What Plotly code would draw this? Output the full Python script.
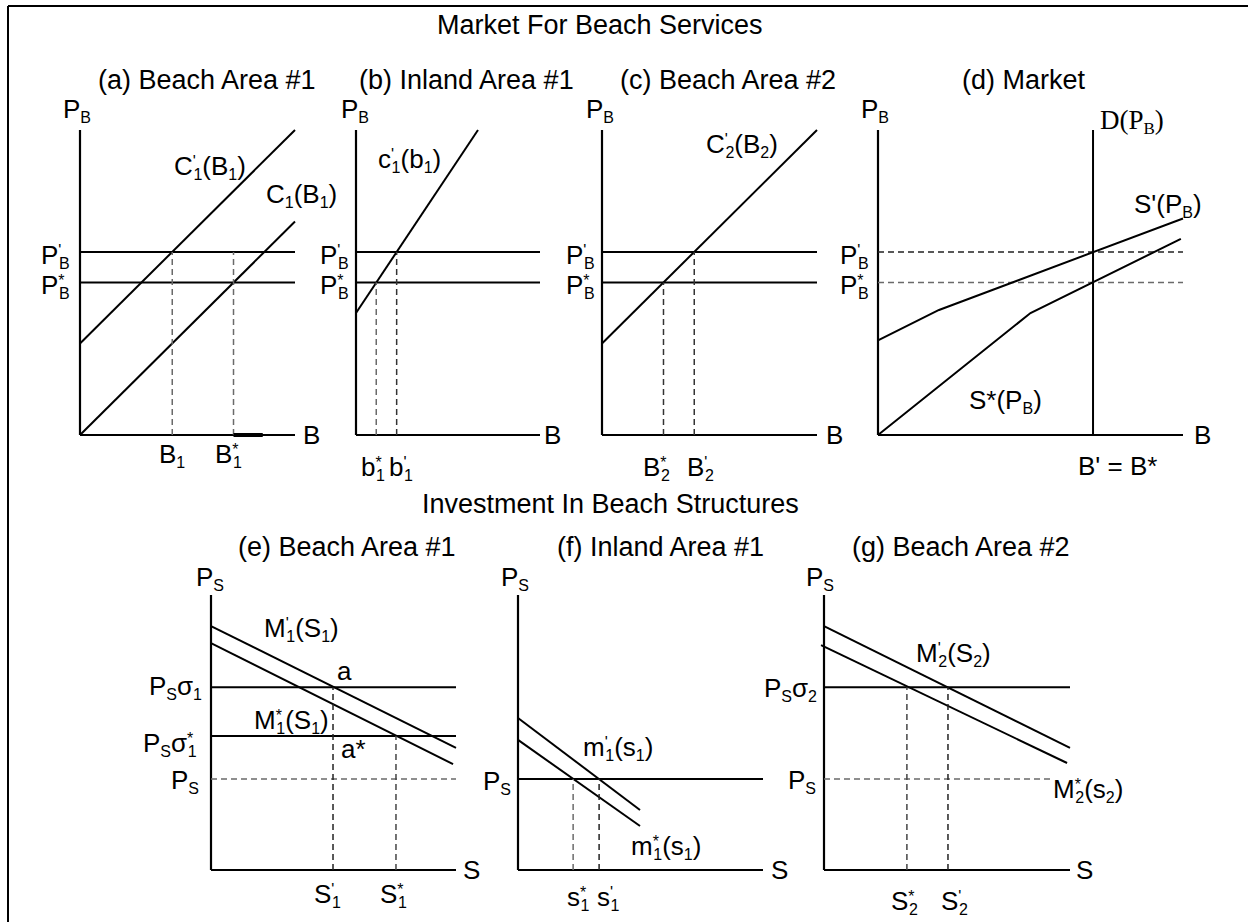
import plotly.graph_objects as go

# ---------------- data (diagram units: every axis runs 0..10) ----------------
AXIS_LEN = 10
# (a) Beach Area #1
a_price_levels = [6.0, 5.0]                 # P'_B , P*_B
a_C1p_x = [0, 10];  a_C1p_y = [3.0, 10.0]   # C'_1(B_1)
a_C1_x = [0, 10];   a_C1_y = [0.0, 7.0]     # C_1(B_1)
a_B1 = 4.29; a_B1star = 7.14
a_axis_mark_x = [7.14, 8.5]
# (b) Inland Area #1
b_price_levels = [6.0, 5.0]
b_c1p_x = [0, 6.63]; b_c1p_y = [4.0, 10.0]  # c'_1(b_1)
b_b1star = 1.1; b_b1p = 2.21
# (c) Beach Area #2
c_price_levels = [6.0, 5.0]
c_C2p_x = [0, 10]; c_C2p_y = [3.0, 10.0]    # C'_2(B_2)
c_B2star = 2.86; c_B2p = 4.29
# (d) Market
d_price_levels = [6.0, 5.0]
d_D_x = 7.05
d_Sp_x = [0, 2.0, 10];   d_Sp_y = [3.1, 4.1, 7.1]     # S'(P_B)
d_Ss_x = [0, 5.0, 9.93]; d_Ss_y = [0.0, 4.0, 6.43]    # S*(P_B)
# (e) Beach Area #1 (structures)
e_levels = [6.65, 4.87, 3.31]               # P_S sigma_1, P_S sigma*_1, P_S
e_M1p_x = [0, 10];   e_M1p_y = [8.87, 4.44]
e_M1s_x = [0, 9.88]; e_M1s_y = [8.25, 3.85]
e_S1p = 4.98; e_S1s = 7.55
# (f) Inland Area #1 (structures)
f_PS = 3.31
f_m1p_x = [0, 4.98]; f_m1p_y = [5.53, 2.18]
f_m1s_x = [0, 4.98]; f_m1s_y = [4.73, 1.60]
f_s1s = 2.25; f_s1p = 3.31
# (g) Beach Area #2 (structures)
g_levels = [6.65, 3.31]                     # P_S sigma_2, P_S
g_PS_end = 9.3
g_M2p_x = [0, 10];     g_M2p_y = [8.87, 4.44]
g_M2s_x = [-0.12, 9.88]; g_M2s_y = [8.18, 3.89]
g_S2s = 3.37; g_S2p = 5.04

# ---------------- layout geometry (pixels) ----------------
W, H = 1248, 922
SANS = "Liberation Sans, Arial, sans-serif"
SERIF = "Liberation Serif, Times New Roman, serif"
# origin x, origin y, x-axis end, y-axis top
panels = [
    (80, 435, 295, 130),
    (356, 435, 540, 130),
    (602, 435, 817, 130),
    (878, 435, 1183, 130),
    (211, 870, 456, 595),
    (518, 870, 763, 595),
    (824, 870, 1070, 595),
]
XR = (-1.0, 11.0)
YR = (-1.5, 12.5)

fig = go.Figure()
layout = dict(width=W, height=H, margin=dict(l=0, r=0, t=0, b=0),
              paper_bgcolor="white", plot_bgcolor="rgba(0,0,0,0)",
              showlegend=False, autosize=False)
for i, (ox, oy, xe, yt) in enumerate(panels):
    sx = (xe - ox) / 10.0
    sy = (oy - yt) / 10.0
    k = "" if i == 0 else str(i + 1)
    layout["xaxis" + k] = dict(domain=[(ox + XR[0] * sx) / W, (ox + XR[1] * sx) / W],
                               range=list(XR), visible=False, fixedrange=True, anchor="y" + k)
    layout["yaxis" + k] = dict(domain=[1 - (oy - YR[0] * sy) / H, 1 - (oy - YR[1] * sy) / H],
                               range=list(YR), visible=False, fixedrange=True, anchor="x" + k)
fig.update_layout(**layout)


def refs(p):
    return ("x", "y") if p == 0 else ("x" + str(p + 1), "y" + str(p + 1))


def line(p, xs, ys, color="black", width=2, dash=None):
    xr, yr = refs(p)
    fig.add_trace(go.Scatter(x=xs, y=ys, mode="lines", xaxis=xr, yaxis=yr, hoverinfo="skip",
                             line=dict(color=color, width=width, dash=dash)))


def hline(p, y, x0=0, x1=AXIS_LEN, **kw):
    line(p, [x0, x1], [y, y], **kw)


def vline(p, x, y0, y1, **kw):
    line(p, [x, x], [y0, y1], **kw)


DASH = "6px,4px"
GREY = "#6a6a6a"

# axes
for p in range(7):
    line(p, [0, AXIS_LEN], [0, 0], width=2.2)
    line(p, [0, 0], [0, AXIS_LEN], width=2.2)

# (a)
for lv in a_price_levels:
    hline(0, lv)
line(0, a_C1p_x, a_C1p_y)
line(0, a_C1_x, a_C1_y)
vline(0, a_B1, 0, a_price_levels[0], color=GREY, width=1.5, dash=DASH)
vline(0, a_B1star, 0, a_price_levels[0], color=GREY, width=1.5, dash=DASH)
line(0, a_axis_mark_x, [0, 0], width=4)
# (b)
for lv in b_price_levels:
    hline(1, lv)
line(1, b_c1p_x, b_c1p_y)
vline(1, b_b1star, 0, b_price_levels[1], color=GREY, width=1.5, dash=DASH)
vline(1, b_b1p, 0, b_price_levels[0], color="#333", width=1.5, dash=DASH)
# (c)
for lv in c_price_levels:
    hline(2, lv)
line(2, c_C2p_x, c_C2p_y)
vline(2, c_B2star, 0, c_price_levels[1], color="#333", width=1.5, dash=DASH)
vline(2, c_B2p, 0, c_price_levels[0], color="#333", width=1.5, dash=DASH)
# (d)
hline(3, d_price_levels[0], color="#222", width=1.5, dash=DASH)
hline(3, d_price_levels[1], color=GREY, width=1.5, dash=DASH)
vline(3, d_D_x, 0, AXIS_LEN)
line(3, d_Sp_x, d_Sp_y)
line(3, d_Ss_x, d_Ss_y)
# (e)
hline(4, e_levels[0])
hline(4, e_levels[1])
hline(4, e_levels[2], color=GREY, width=1.5, dash=DASH)
line(4, e_M1p_x, e_M1p_y)
line(4, e_M1s_x, e_M1s_y)
vline(4, e_S1p, 0, e_levels[0], color="#222", width=1.5, dash=DASH)
vline(4, e_S1s, 0, e_levels[1], color="#444", width=1.5, dash=DASH)
# (f)
hline(5, f_PS)
line(5, f_m1p_x, f_m1p_y)
line(5, f_m1s_x, f_m1s_y)
vline(5, f_s1s, 0, f_PS, color=GREY, width=1.5, dash=DASH)
vline(5, f_s1p, 0, f_PS, color="#222", width=1.5, dash=DASH)
# (g)
hline(6, g_levels[0])
hline(6, g_levels[1], x1=g_PS_end, color=GREY, width=1.5, dash=DASH)
line(6, g_M2p_x, g_M2p_y)
line(6, g_M2s_x, g_M2s_y)
vline(6, g_S2s, 0, g_levels[0], color="#444", width=1.5, dash=DASH)
vline(6, g_S2p, 0, g_levels[0], color="#222", width=1.5, dash=DASH)

# ---------------- text ----------------
WID = {' ': 278, '(': 333, ')': 333, "'": 191, '*': 389, '1': 556, '2': 556, '=': 584,
       'B': 667, 'C': 722, 'D': 722, 'M': 833, 'P': 667, 'S': 667, 'a': 556, 'b': 556,
       'c': 500, 'm': 833, 's': 500, 'σ': 600}
SIZE, SUB = 26, 16
SUB_SHIFT, SUP_SHIFT = -5, 8


def tw(t, size):
    return sum(WID.get(c, 556) for c in t) * size / 1000.0


def html(segs, sub):
    out = ""
    for s in segs:
        if s[0] == "n":
            out += s[1]
        elif s[0] == "sub":
            out += "<span style='font-size:%dpx;baseline-shift:%dpx'>%s</span>" % (sub, SUB_SHIFT, s[1])
        else:  # superscript stacked over subscript
            ls = -(tw(s[1], sub) - 0.6)
            out += ("<span style='font-size:%dpx;baseline-shift:%dpx;letter-spacing:%.2fpx'>%s</span>"
                    "<span style='font-size:%dpx;baseline-shift:%dpx'>%s</span>") % (
                sub, SUP_SHIFT, ls, s[1], sub, SUB_SHIFT, s[2])
    return out


annotations = []


def lab(p, x, y, segs, anchor="left", dx=0, dy=0, size=SIZE, sub=SUB, serif=False):
    xr, yr = refs(p)
    if any(s[0] in ("st", "sub") for s in segs):
        dy -= 2
    annotations.append(dict(x=x, y=y, xref=xr, yref=yr, text=html(segs, sub), showarrow=False,
                            xanchor=anchor, yanchor="middle", xshift=dx, yshift=dy, borderpad=0,
                            font=dict(family=SERIF if serif else SANS, size=size, color="black")))


def title(p, x, y, text):
    xr, yr = refs(p)
    annotations.append(dict(x=x, y=y, xref=xr, yref=yr, text=text, showarrow=False,
                            xanchor="center", yanchor="middle", borderpad=0,
                            font=dict(family=SANS, size=27, color="black")))


PB = [("n", "P"), ("sub", "B")]
PS = [("n", "P"), ("sub", "S")]
PBp = [("n", "P"), ("st", "'", "B")]
PBs = [("n", "P"), ("st", "*", "B")]

# main titles
for txt, px, py in [("Market For Beach Services", 600, 25),
                    ("Investment In Beach Structures", 610, 504)]:
    annotations.append(dict(x=px / W, y=1 - py / H, xref="paper", yref="paper", text=txt,
                            showarrow=False, xanchor="center", yanchor="middle",
                            font=dict(family=SANS, size=27, color="black")))

# (a)
title(0, 5.9, 11.64, "(a) Beach Area #1")
lab(0, -0.84, 10.72, PB)
lab(0, 10.33, 0, [("n", "B")])
lab(0, 0, a_price_levels[0], PBp, "right", dx=-9, dy=-2)
lab(0, 0, a_price_levels[1], PBs, "right", dx=-9, dy=-2)
lab(0, a_B1, 0, [("n", "B"), ("sub", "1")], "center", dy=-18)
lab(0, a_B1star, 0, [("n", "B"), ("st", "*", "1")], "center", dx=-5, dy=-18)
lab(0, 4.33, 8.85, [("n", "C"), ("st", "'", "1"), ("n", "(B"), ("sub", "1"), ("n", ")")])
lab(0, 8.6, 7.93, [("n", "C"), ("sub", "1"), ("n", "(B"), ("sub", "1"), ("n", ")")])
# (b)
title(1, 6.03, 11.64, "(b) Inland Area #1")
lab(1, -0.87, 10.72, PB)
lab(1, 10.16, 0, [("n", "B")])
lab(1, 0, b_price_levels[0], PBp, "right", dx=-6, dy=-2)
lab(1, 0, b_price_levels[1], PBs, "right", dx=-6, dy=-2)
lab(1, 1.14, 9.08, [("n", "c"), ("st", "'", "1"), ("n", "(b"), ("sub", "1"), ("n", ")")])
lab(1, b_b1star, 0, [("n", "b"), ("st", "*", "1")], "center", dx=-3, dy=-31)
lab(1, b_b1p, 0, [("n", "b"), ("st", "'", "1")], "center", dx=4, dy=-31)
# (c)
title(2, 5.86, 11.64, "(c) Beach Area #2")
lab(2, -0.79, 10.72, PB)
lab(2, 10.37, 0, [("n", "B")])
lab(2, 0, c_price_levels[0], PBp, "right", dx=-6, dy=-2)
lab(2, 0, c_price_levels[1], PBs, "right", dx=-6, dy=-2)
lab(2, 4.79, 9.57, [("n", "C"), ("st", "'", "2"), ("n", "(B"), ("sub", "2"), ("n", ")")])
lab(2, c_B2star, 0, [("n", "B"), ("st", "*", "2")], "center", dx=-7, dy=-31)
lab(2, c_B2p, 0, [("n", "B"), ("st", "'", "2")], "center", dx=6, dy=-31)
# (d)
title(3, 4.79, 11.64, "(d) Market")
lab(3, -0.59, 10.72, PB)
lab(3, 10.33, 0, [("n", "B")])
lab(3, 0, d_price_levels[0], PBp, "right", dx=-8, dy=-2)
lab(3, 0, d_price_levels[1], PBs, "right", dx=-8, dy=-2)
lab(3, 7.25, 10.36, [("n", "D(P"), ("sub", "B"), ("n", ")")], size=27, sub=17, serif=True)
lab(3, 8.36, 7.6, [("n", "S'(P"), ("sub", "B"), ("n", ")")])
lab(3, 2.95, 1.18, [("n", "S*(P"), ("sub", "B"), ("n", ")")])
lab(3, d_D_x, 0, [("n", "B' = B*")], "center", dx=24, dy=-31)
# (e)
title(4, 5.55, 11.75, "(e) Beach Area #1")
lab(4, -0.65, 10.69, PS)
lab(4, 10.24, 0, [("n", "S")])
lab(4, 2.12, 8.84, [("n", "M"), ("st", "'", "1"), ("n", "(S"), ("sub", "1"), ("n", ")")])
lab(4, 5.1, 7.24, [("n", "a")])
lab(4, 1.71, 5.49, [("n", "M"), ("st", "*", "1"), ("n", "(S"), ("sub", "1"), ("n", ")")])
lab(4, 5.27, 4.4, [("n", "a*")])
lab(4, 0, e_levels[0], PS + [("n", "σ"), ("sub", "1")], "right", dx=-8, dy=2)
lab(4, 0, e_levels[1], PS + [("n", "σ"), ("st", "*", "1")], "right", dx=-13, dy=-6)
lab(4, 0, e_levels[2], PS, "right", dx=-11)
lab(4, e_S1p, 0, [("n", "S"), ("st", "'", "1")], "center", dx=-6, dy=-23)
lab(4, e_S1s, 0, [("n", "S"), ("st", "*", "1")], "center", dx=-2, dy=-23)
# (f)
title(5, 5.8, 11.75, "(f) Inland Area #1")
lab(5, -0.73, 10.69, PS)
lab(5, 10.29, 0, [("n", "S")])
lab(5, 2.61, 4.51, [("n", "m"), ("st", "'", "1"), ("n", "(s"), ("sub", "1"), ("n", ")")])
lab(5, 4.57, 0.91, [("n", "m"), ("st", "*", "1"), ("n", "(s"), ("sub", "1"), ("n", ")")])
lab(5, 0, f_PS, PS, "right", dx=-6, dy=-1)
lab(5, f_s1s, 0, [("n", "s"), ("st", "*", "1")], "center", dx=5, dy=-26)
lab(5, f_s1p, 0, [("n", "s"), ("st", "'", "1")], "center", dx=9, dy=-26)
# (g)
title(6, 5.57, 11.75, "(g) Beach Area #2")
lab(6, -0.77, 10.69, PS)
lab(6, 10.2, 0, [("n", "S")])
lab(6, 3.7, 7.93, [("n", "M"), ("st", "'", "2"), ("n", "(S"), ("sub", "2"), ("n", ")")])
lab(6, 9.27, 2.98, [("n", "M"), ("st", "*", "2"), ("n", "(s"), ("sub", "2"), ("n", ")")])
lab(6, 0, g_levels[0], PS + [("n", "σ"), ("sub", "2")], "right", dx=-6)
lab(6, 0, g_levels[1], PS, "right", dx=-7)
lab(6, g_S2s, 0, [("n", "S"), ("st", "*", "2")], "center", dx=-2, dy=-30)
lab(6, g_S2p, 0, [("n", "S"), ("st", "'", "2")], "center", dx=7, dy=-30)

# frame (left and top edges)
shapes = [
    dict(type="line", xref="paper", yref="paper", x0=8 / W, x1=8 / W, y0=0, y1=1 - 6 / H,
         line=dict(color="black", width=2)),
    dict(type="line", xref="paper", yref="paper", x0=8 / W, x1=1, y0=1 - 6 / H, y1=1 - 6 / H,
         line=dict(color="black", width=2)),
]
fig.update_layout(annotations=annotations, shapes=shapes)
fig.write_html("out.html")
